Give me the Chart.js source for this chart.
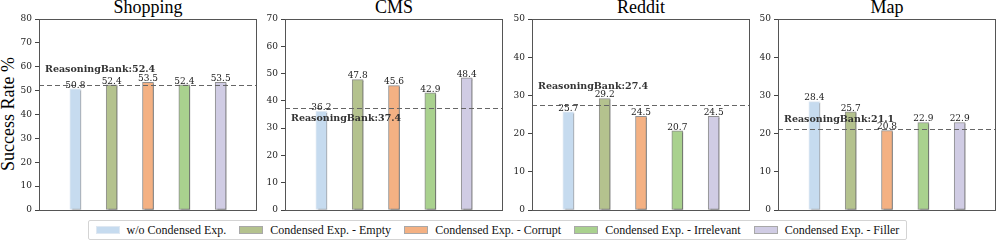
<!DOCTYPE html>
<html>
<head>
<meta charset="utf-8">
<script src="https://cdn.jsdelivr.net/npm/chart.js@4"></script>
<style>
  body { margin: 0; background: #fff; width: 996px; height: 240px; position: relative; overflow: hidden; font-family: "Liberation Serif", serif; }
  canvas { position: absolute; }
  .titulo { position: absolute; top: -3px; width: 218px; text-align: center; font-size: 18px; line-height: 20px; color: #000; }
  .eixoY { position: absolute; left: 8px; top: 114px; transform: translate(-50%, -50%) rotate(-90deg); font-size: 18px; white-space: nowrap; color: #000; }
  .legenda { position: absolute; left: 88px; top: 220px; width: 817px; height: 18px; border: 1px solid #d4d4d4; border-radius: 2px;
    display: flex; align-items: center; justify-content: space-around; font-size: 12px; color: #111; }
  .item { display: flex; align-items: center; white-space: nowrap; }
  .amostra { width: 24px; height: 8px; margin-right: 7px; box-sizing: border-box; border: 1px solid #a8a8a8; }
</style>
</head>
<body>
<div class="eixoY">Success Rate %</div>
<div class="legenda" id="legenda"></div>
<script>
// categorias e valores
const categorias = ['w/o Condensed Exp.', 'Condensed Exp. - Empty', 'Condensed Exp. - Corrupt', 'Condensed Exp. - Irrelevant', 'Condensed Exp. - Filler']
const cores = ['#c6dbef', '#b4c28e', '#f4b183', '#a9d18e', '#d0cce4']
const bordas = ['#dfe8f2', '#8f8f8f', '#8f8f8f', '#8f8f8f', '#8f8f8f']

const paineis = ['Shopping', 'CMS', 'Reddit', 'Map']
const valoresShopping = [50.8, 52.4, 53.5, 52.4, 53.5]
const valoresCMS = [36.2, 47.8, 45.6, 42.9, 48.4]
const valoresReddit = [25.7, 29.2, 24.5, 20.7, 24.5]
const valoresMap = [28.4, 25.7, 20.8, 22.9, 22.9]
const baseReasoningBank = [52.4, 37.4, 27.4, 21.1]
const maximosY = [80, 70, 50, 50]

const valores = [valoresShopping, valoresCMS, valoresReddit, valoresMap]

// layout
const esquerdas = [39, 285, 532, 778]
const larguraPlot = 218
const larguraEixo = 34
const deslocRotulo = [-16, 10, -19, -10]

const fonteSerif = '"DejaVu Serif", serif'

const pluginCaixa = {
  id: 'caixa',
  afterDraw(chart) {
    const { ctx, chartArea: a } = chart
    ctx.save()
    ctx.strokeStyle = '#555'
    ctx.lineWidth = 1
    ctx.strokeRect(Math.round(a.left) + 0.5, Math.round(a.top) + 0.5, Math.round(a.right - a.left) - 1, Math.round(a.bottom - a.top))
    ctx.restore()
  }
}

const pluginSombra = {
  id: 'sombra',
  beforeDatasetsDraw(chart) {
    const ctx = chart.ctx
    ctx.save()
    ctx.shadowColor = 'rgba(0,0,0,0.25)'
    ctx.shadowOffsetX = 2
    ctx.shadowOffsetY = 1
    ctx.shadowBlur = 0
  },
  afterDatasetsDraw(chart) {
    chart.ctx.restore()
  }
}

const pluginAnotacoes = {
  id: 'anotacoes',
  afterDatasetsDraw(chart, args, opts) {
    const { ctx, chartArea: a, scales } = chart
    const yLinha = Math.round(scales.y.getPixelForValue(opts.base)) + 0.5

    ctx.save()
    // linha tracejada do ReasoningBank
    ctx.strokeStyle = '#666'
    ctx.lineWidth = 1.2
    ctx.setLineDash([5, 3])
    ctx.beginPath()
    ctx.moveTo(a.left, yLinha)
    ctx.lineTo(a.right, yLinha)
    ctx.stroke()
    ctx.setLineDash([])

    // valores acima das barras
    ctx.fillStyle = '#222'
    ctx.font = '9px ' + fonteSerif
    ctx.textAlign = 'center'
    ctx.textBaseline = 'bottom'
    chart.getDatasetMeta(0).data.forEach((barra, i) => {
      ctx.fillText(opts.valores[i].toFixed(1), barra.x, barra.y + 1)
    })

    // rotulo
    ctx.fillStyle = '#333'
    ctx.font = 'bold 9.5px ' + fonteSerif
    ctx.textAlign = 'left'
    ctx.textBaseline = 'middle'
    ctx.fillText('ReasoningBank:' + opts.base.toFixed(1), a.left + 6, yLinha + opts.dy)
    ctx.restore()
  }
}

function criarPainel(indice) {
  const titulo = document.createElement('div')
  titulo.className = 'titulo'
  titulo.style.left = esquerdas[indice] + 'px'
  titulo.textContent = paineis[indice]
  document.body.appendChild(titulo)

  const canvas = document.createElement('canvas')
  canvas.width = larguraEixo + larguraPlot + 4
  canvas.height = 215
  canvas.style.left = (esquerdas[indice] - larguraEixo) + 'px'
  canvas.style.top = '10px'
  document.body.appendChild(canvas)

  const dados = valores[indice].map((v, i) => ({ x: i, y: v }))

  return new Chart(canvas, {
    type: 'bar',
    data: {
      datasets: [{
        data: dados,
        backgroundColor: cores,
        borderColor: bordas,
        borderWidth: 1,
        borderSkipped: false,
        barThickness: 11
      }]
    },
    options: {
      responsive: false,
      animation: false,
      devicePixelRatio: 1,
      layout: { padding: { top: 9, right: 4, bottom: 15, left: 0 } },
      plugins: {
        legend: { display: false },
        tooltip: { enabled: false },
        anotacoes: { base: baseReasoningBank[indice], valores: valores[indice], dy: deslocRotulo[indice] }
      },
      scales: {
        x: {
          type: 'linear',
          min: -1,
          max: 5,
          offset: false,
          grid: { display: false, drawTicks: false },
          border: { display: false },
          ticks: { display: false },
          afterFit: (eixo) => { eixo.height = 0 }
        },
        y: {
          min: 0,
          max: maximosY[indice],
          grid: { drawOnChartArea: false, drawTicks: true, tickLength: 4, color: '#444' },
          border: { display: false },
          ticks: { stepSize: 10, color: '#222', padding: 3, font: { family: fonteSerif, size: 9 } },
          afterFit: (eixo) => { eixo.width = larguraEixo }
        }
      }
    },
    plugins: [pluginSombra, pluginAnotacoes, pluginCaixa]
  })
}

paineis.forEach((_, i) => criarPainel(i))

// legenda compartilhada
const legenda = document.getElementById('legenda')
categorias.forEach((nome, i) => {
  const item = document.createElement('div')
  item.className = 'item'
  const amostra = document.createElement('span')
  amostra.className = 'amostra'
  amostra.style.background = cores[i]
  if (i === 0) amostra.style.borderColor = bordas[0]
  const texto = document.createElement('span')
  texto.textContent = nome
  item.appendChild(amostra)
  item.appendChild(texto)
  legenda.appendChild(item)
})
</script>
</body>
</html>
